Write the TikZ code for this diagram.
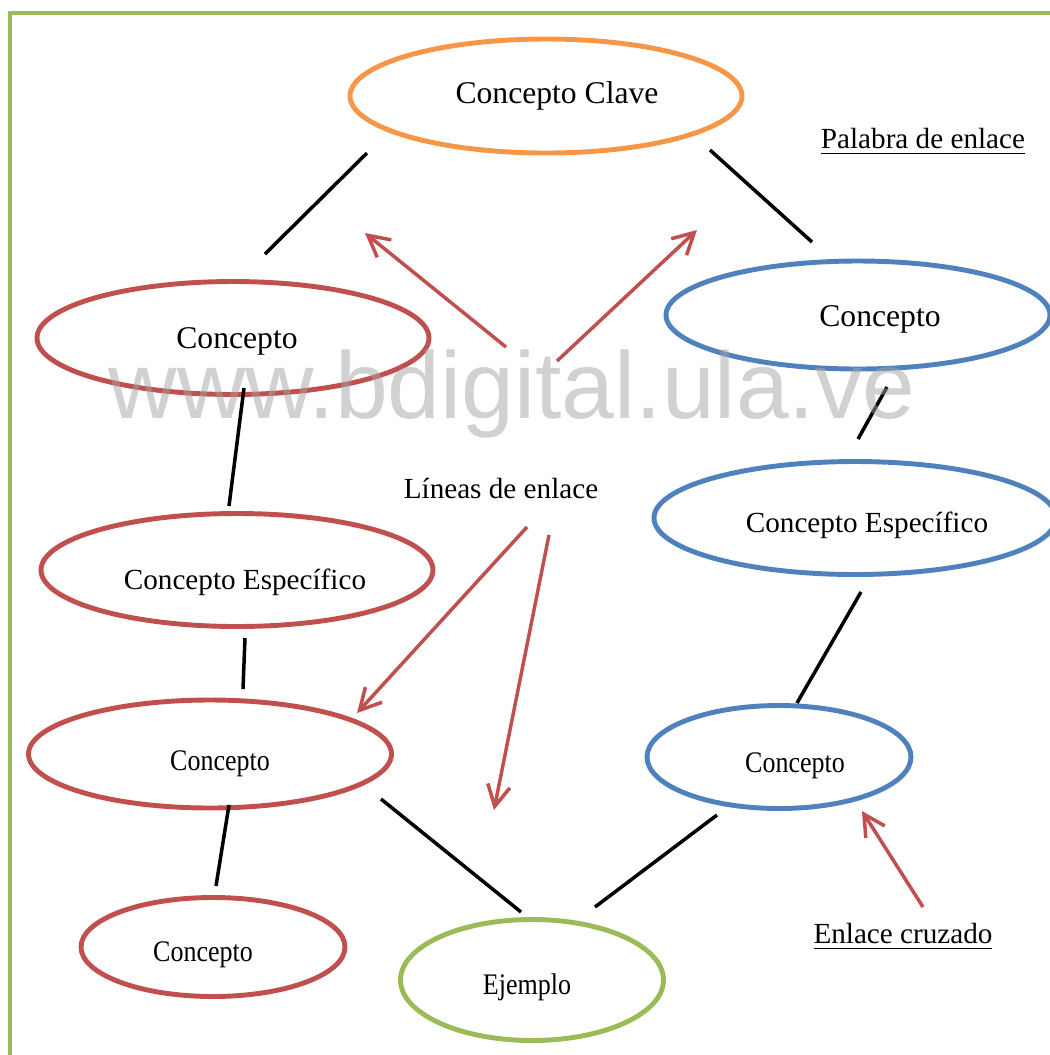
\documentclass[tikz,border=0pt]{standalone}
\usepackage{fontspec}
\setmainfont{Liberation Serif}
\newfontfamily\marcafont{Liberation Sans}
\newfontfamily\estrecha[FakeStretch=0.87]{Liberation Serif}
\usetikzlibrary{shapes.geometric,arrows.meta}
\definecolor{ofnaranja}{HTML}{F79646}
\definecolor{ofrojo}{HTML}{C0504D}
\definecolor{ofazul}{HTML}{4F81BD}
\definecolor{ofverde}{HTML}{9BBB59}
\definecolor{marcagris}{RGB}{163,163,163}
\newcommand{\desplaza}[3]{\raisebox{#2}[\height][\depth]{\hspace*{#1}#3\hspace*{-#1}}}
\tikzset{concepto/.style={draw, ellipse, line width=1.4pt, inner sep=0pt, text=black}}
\tikzset{edge/.style={line width=1pt, color=black}}
\tikzset{enlace/.style={line width=1pt, color=ofrojo, -{Straight Barb[length=6pt, width=6.4pt]}}}
\tikzset{grande/.style={font=\fontsize{9}{10}\selectfont}}
\tikzset{letra/.style={font=\fontsize{8.3}{10}\selectfont}}
\tikzset{chica/.style={font=\estrecha\fontsize{8.5}{10}\selectfont}}

\begin{document}
\begin{tikzpicture}
    \useasboundingbox (0,0) rectangle (10.5,-10.55);
    \draw [ofverde, line width=1.4pt] (0.10,-10.6) -- (0.10,-0.13) -- (10.6,-0.13);

    \node[concepto, draw=ofnaranja, minimum width=3.92cm, minimum height=1.14cm, grande] (Clave) at (5.46,-0.96) {\desplaza{0.11cm}{0cm}{Concepto Clave}};
    \node[concepto, draw=ofrojo, minimum width=3.92cm, minimum height=1.13cm, grande] (Izq1) at (2.33,-3.38) {\desplaza{0.04cm}{-0.03cm}{Concepto}};
    \node[concepto, draw=ofrojo, minimum width=3.92cm, minimum height=1.13cm, letra] (Izq2) at (2.37,-5.70) {\desplaza{0.08cm}{-0.12cm}{Concepto Específico}};
    \node[concepto, draw=ofrojo, minimum width=3.63cm, minimum height=1.08cm, chica] (Izq3) at (2.10,-7.54) {\desplaza{0.10cm}{-0.10cm}{Concepto}};
    \node[concepto, draw=ofrojo, minimum width=2.64cm, minimum height=0.99cm, chica] (Izq4) at (2.13,-9.47) {\desplaza{-0.10cm}{-0.08cm}{Concepto}};
    \node[concepto, draw=ofazul, minimum width=3.84cm, minimum height=1.08cm, grande] (Der1) at (8.58,-3.15) {\desplaza{0.22cm}{-0.04cm}{Concepto}};
    \node[concepto, draw=ofazul, minimum width=4.02cm, minimum height=1.13cm, letra] (Der2) at (8.55,-5.18) {\desplaza{0.12cm}{-0.07cm}{Concepto Específico}};
    \node[concepto, draw=ofazul, minimum width=2.64cm, minimum height=1.03cm, chica] (Der3) at (7.79,-7.57) {\desplaza{0.16cm}{-0.09cm}{Concepto}};
    \node[concepto, draw=ofverde, minimum width=2.63cm, minimum height=1.21cm, chica] (Ejemplo) at (5.32,-9.80) {\desplaza{-0.05cm}{-0.07cm}{Ejemplo}};

    \node[letra, anchor=base] (Palabra) at (9.23,-1.48) {\underline{Palabra de enlace}};
    \node[letra, anchor=base] (Lineas) at (5.01,-4.98) {Líneas de enlace};
    \node[letra, anchor=base] (Cruzado) at (9.03,-9.43) {\underline{Enlace cruzado}};

    % lineas negras
    \coordinate (a1) at (3.67,-1.53); \coordinate (a2) at (2.65,-2.54);
    \coordinate (b1) at (7.10,-1.50); \coordinate (b2) at (8.12,-2.42);
    \coordinate (c1) at (2.44,-3.88); \coordinate (c2) at (2.29,-5.06);
    \coordinate (d1) at (2.45,-6.38); \coordinate (d2) at (2.43,-6.89);
    \coordinate (e1) at (2.29,-8.05); \coordinate (e2) at (2.16,-8.86);
    \coordinate (f1) at (3.81,-7.99); \coordinate (f2) at (5.21,-9.12);
    \coordinate (g1) at (7.17,-8.15); \coordinate (g2) at (5.95,-9.07);
    \coordinate (h1) at (8.87,-3.87); \coordinate (h2) at (8.58,-4.39);
    \coordinate (i1) at (8.61,-5.92); \coordinate (i2) at (7.97,-7.03);

    \draw [edge] (a1) -- (a2);
    \draw [edge] (b1) -- (b2);
    \draw [edge] (c1) -- (c2);
    \draw [edge] (d1) -- (d2);
    \draw [edge] (e1) -- (e2);
    \draw [edge] (f1) -- (f2);
    \draw [edge] (g1) -- (g2);
    \draw [edge] (h1) -- (h2);
    \draw [edge] (i1) -- (i2);

    % flechas rojas
    \coordinate (s1) at (5.06,-3.47); \coordinate (t1) at (3.65,-2.33);
    \coordinate (s2) at (5.57,-3.61); \coordinate (t2) at (6.97,-2.30);
    \coordinate (s3) at (5.27,-5.27); \coordinate (t3) at (3.57,-7.13);
    \coordinate (s4) at (5.49,-5.35); \coordinate (t4) at (4.94,-8.10);
    \coordinate (s5) at (9.23,-9.07); \coordinate (t5) at (8.62,-8.11);

    \draw [enlace] (s1) -- (t1);
    \draw [enlace] (s2) -- (t2);
    \draw [enlace] (s3) -- (t3);
    \draw [enlace] (s4) -- (t4);
    \draw [enlace] (s5) -- (t5);

    \node[anchor=base, text=marcagris, text opacity=0.5, font=\marcafont\fontsize{27}{30}\selectfont] (Marca) at (5.12,-4.18) {www.bdigital.ula.ve};
\end{tikzpicture}
\end{document}
